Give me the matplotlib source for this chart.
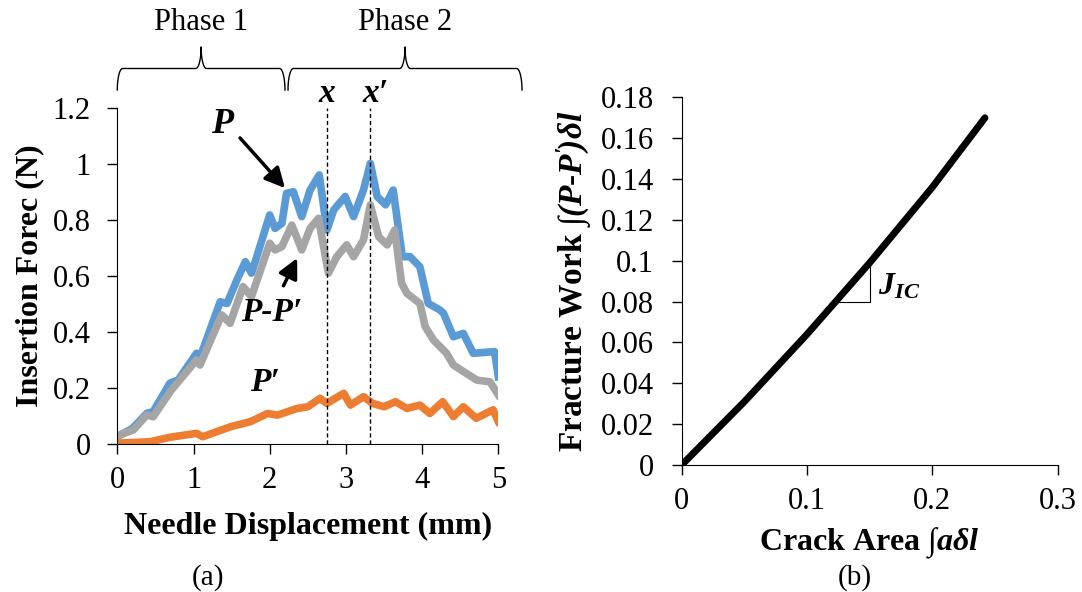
import matplotlib.pyplot as plt
import numpy as np

plt.rcParams['font.family'] = ['Liberation Serif', 'DejaVu Serif']
plt.rcParams['mathtext.fontset'] = 'custom'
plt.rcParams['mathtext.rm'] = 'Liberation Serif'
plt.rcParams['mathtext.it'] = 'Liberation Serif:italic'
plt.rcParams['mathtext.bf'] = 'Liberation Serif:bold'
plt.rcParams['mathtext.bfit'] = 'Liberation Serif:bold:italic'

# (a) insertion force curves
p_x = [0, 0.2, 0.39, 0.47, 0.69, 0.8, 1.04, 1.09, 1.35, 1.44, 1.57, 1.68, 1.76, 1.83,
       2.0, 2.07, 2.16, 2.22, 2.31, 2.42, 2.53, 2.65, 2.75, 2.84, 2.99, 3.10, 3.23,
       3.32, 3.41, 3.52, 3.62, 3.74, 3.84, 3.97, 4.08, 4.23, 4.28, 4.41, 4.54, 4.67,
       4.95, 5.0]
p_y = [0.026, 0.056, 0.11, 0.115, 0.217, 0.229, 0.324, 0.312, 0.508, 0.502, 0.586,
       0.651, 0.61, 0.669, 0.818, 0.77, 0.788, 0.895, 0.901, 0.812, 0.907, 0.961,
       0.764, 0.836, 0.884, 0.812, 0.907, 1.002, 0.884, 0.854, 0.907, 0.669, 0.669,
       0.633, 0.502, 0.479, 0.467, 0.383, 0.395, 0.324, 0.33, 0.24]

pp_x = [0.0, 0.21, 0.39, 0.47, 0.71, 1.04, 1.085, 1.37, 1.48, 1.65, 1.76, 2.0, 2.07,
        2.16, 2.29, 2.42, 2.53, 2.64, 2.77, 2.88, 3.01, 3.10, 3.23, 3.32, 3.43, 3.54,
        3.64, 3.73, 3.80, 3.97, 4.04, 4.15, 4.32, 4.41, 4.58, 4.72, 4.89, 5.0]
pp_y = [0.029, 0.05, 0.104, 0.097, 0.193, 0.30, 0.282, 0.461, 0.431, 0.562, 0.526,
        0.717, 0.693, 0.705, 0.782, 0.693, 0.77, 0.806, 0.61, 0.669, 0.711, 0.669,
        0.729, 0.854, 0.74, 0.711, 0.764, 0.574, 0.538, 0.502, 0.419, 0.371, 0.324,
        0.282, 0.252, 0.228, 0.222, 0.175]

p1_x = [0, 0.43, 0.69, 1.04, 1.12, 1.49, 1.75, 1.97, 2.1, 2.36, 2.5, 2.66, 2.75, 2.97,
        3.06, 3.23, 3.35, 3.5, 3.65, 3.8, 3.97, 4.10, 4.27, 4.41, 4.54, 4.71, 4.93, 5.0]
p1_y = [0.003, 0.008, 0.024, 0.038, 0.026, 0.062, 0.080, 0.109, 0.103, 0.127, 0.133,
        0.163, 0.145, 0.181, 0.139, 0.169, 0.145, 0.133, 0.151, 0.127, 0.139, 0.109,
        0.151, 0.098, 0.133, 0.092, 0.122, 0.08]

x_marks = [2.75, 3.32]
x_mark_labels = ['x', 'x\u2032']
phase_spans = [(0.0, 2.2), (2.24, 5.31)]
phase_labels = ['Phase 1', 'Phase 2']

# (b) fracture work vs crack area
crack_area = [0, 0.025, 0.05, 0.1, 0.15, 0.2, 0.242]
fracture_work = [0, 0.0155, 0.031, 0.064, 0.099, 0.136, 0.170]

fig = plt.figure(figsize=(10.82, 5.92), dpi=100)
ax1 = fig.add_axes([0.1084, 0.25, 0.3522, 0.5676])
ax2 = fig.add_axes([0.630, 0.2145, 0.3475, 0.621])

for ax in (ax1, ax2):
    ax.spines['top'].set_visible(False)
    ax.spines['right'].set_visible(False)
    ax.tick_params(labelsize=22, length=7, direction='out', width=1)
ax1.tick_params(axis='x', pad=9)
ax1.tick_params(axis='y', pad=12)
ax2.tick_params(axis='x', pad=9)
ax2.tick_params(axis='y', pad=13)

ax1.plot(p_x, p_y, color='#5B9BD5', lw=5.5, solid_joinstyle='round')
ax1.plot(pp_x, pp_y, color='#A5A5A5', lw=5.5, solid_joinstyle='round')
ax1.plot(p1_x, p1_y, color='#ED7D31', lw=5.5, solid_joinstyle='round')
bi = dict(fontweight='bold', fontstyle='italic')
for xm, lab in zip(x_marks, x_mark_labels):
    ax1.plot([xm, xm], [0, 1.2], 'k--', lw=1, dashes=(3, 2), clip_on=False)
    ax1.text(xm + (0.07 if len(lab) > 1 else 0), 1.25, lab, ha='center', va='center',
             fontsize=24, **bi)

ax1.set_xlim(0, 5)
ax1.set_ylim(0, 1.2)
ax1.set_xticks([0, 1, 2, 3, 4, 5])
ax1.set_yticks([0, 0.2, 0.4, 0.6, 0.8, 1.0, 1.2])
ax1.set_yticklabels(['0', '0.2', '0.4', '0.6', '0.8', '1', '1.2'])
ax1.set_xlabel('Needle Displacement (mm)', fontsize=23, fontweight='bold', labelpad=12)
ax1.set_ylabel('Insertion Forec (N)', fontsize=23, fontweight='bold', labelpad=6)

arrow = dict(arrowstyle='-|>', lw=2.5, color='k', mutation_scale=30, shrinkA=0, shrinkB=0)
ax1.text(1.38, 1.14, 'P', fontsize=26, ha='center', va='center', **bi)
ax1.annotate('', xy=(2.2, 0.914), xytext=(1.61, 1.093), arrowprops=arrow)
ax1.text(2.03, 0.468, 'P-P\u2032', fontsize=24, ha='center', va='center', **bi)
ax1.annotate('', xy=(2.36, 0.664), xytext=(2.18, 0.565), arrowprops=arrow)
ax1.text(1.94, 0.218, 'P\u2032', fontsize=24, ha='center', va='center', **bi)


def brace(ax, x0, x1, y0, h, r=0.07):
    xm = (x0 + x1) / 2
    t = np.linspace(0, np.pi / 2, 25)
    # end: vertical -> horizontal, then horizontal -> vertical tip
    lx = np.concatenate([x0 + r * (1 - np.cos(t)), xm - r + r * np.sin(t)])
    ly = np.concatenate([y0 + h / 2 * np.sin(t), y0 + h / 2 + h / 2 * (1 - np.cos(t))])
    xs = np.concatenate([lx, (2 * xm - lx)[::-1]])
    ys = np.concatenate([ly, ly[::-1]])
    ax.plot(xs, ys, color='k', lw=1, clip_on=False)


for (a, b), lab in zip(phase_spans, phase_labels):
    brace(ax1, a, b, 1.264, 0.154)
    ax1.text((a + b) / 2, 1.505, lab, ha='center', va='center', fontsize=22)

ax2.plot(crack_area, fracture_work, color='k', lw=5, solid_capstyle='round')
ax2.plot([0.1204, 0.150, 0.150], [0.08, 0.08, 0.0985], color='k', lw=0.8)
ax2.text(0.157, 0.0875, r'$\mathbfit{J}_{\mathbfit{IC}}$', fontsize=23, ha='left', va='center')
ax2.set_xlim(0, 0.3)
ax2.set_ylim(0, 0.18)
ax2.set_xticks([0, 0.1, 0.2, 0.3])
ax2.set_xticklabels(['0', '0.1', '0.2', '0.3'])
ax2.set_yticks(np.arange(0, 0.19, 0.02))
ax2.set_yticklabels(['0', '0.02', '0.04', '0.06', '0.08', '0.1', '0.12', '0.14', '0.16', '0.18'])
ax2.set_xlabel(r'Crack Area $\int\mathbfit{a\delta l}$', fontsize=23, fontweight='bold', labelpad=7)
ax2.set_ylabel(r"Fracture Work $\int\mathbfit{(P}$-$\mathbfit{P'\!)\delta l}$", fontsize=24,
               fontweight='bold', labelpad=5)

fig.text(208 / 1082, 1 - 578 / 592, '(a)', ha='center', va='center', fontsize=21)
fig.text(855 / 1082, 1 - 578 / 592, '(b)', ha='center', va='center', fontsize=21)

fig.savefig('out.png', dpi=100)
